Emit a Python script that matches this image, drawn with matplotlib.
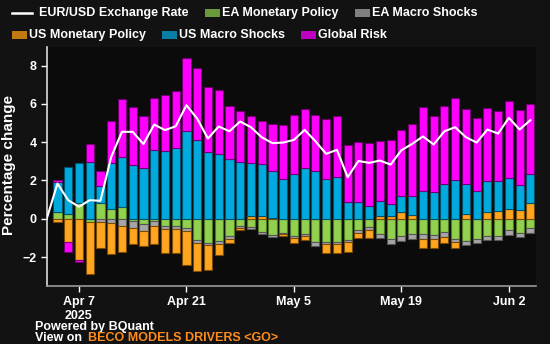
import numpy as np
import pandas as pd
import matplotlib
matplotlib.use("Agg")
import matplotlib.pyplot as plt
from matplotlib.lines import Line2D
from matplotlib.patches import Rectangle

plt.rcParams['font.family'] = ['Liberation Sans', 'DejaVu Sans']
plt.rcParams['font.weight'] = 'bold'

# Business days since the Apr 2 base date
dates = pd.bdate_range('2025-04-02', '2025-06-04')

# Driver contributions (percentage points)
ea_monetary = [0, 0.35, 0.26, 0.80, -0.17, 0.80, 0.50, 0.63, -0.10, -0.28,
               -0.10, -0.38, -0.38, -0.50, -1.13, -1.25, -1.17, -0.89, -0.38, -0.42,
               -0.71, -0.83, -0.73, -0.89, -0.78, -1.22, -1.20, -1.22, -1.10, -0.61,
               -0.43, -0.78, -1.06, -0.89, -0.78, -0.78, -0.87, -0.71, -1.03, -1.15,
               -1.03, -0.89, -0.89, -0.59, -0.73, -0.50]
ea_macro = [0, 0, 0, 0, 0, -0.17, -0.23, -0.38, -0.37, -0.37,
            -0.27, -0.17, -0.17, -0.16, -0.16, -0.14, -0.14, -0.16, -0.09, -0.12,
            -0.09, -0.14, -0.05, -0.12, -0.10, -0.19, -0.14, -0.12, -0.10, -0.14,
            -0.17, -0.23, -0.24, -0.26, -0.26, -0.26, -0.21, -0.23, -0.17, -0.24,
            -0.21, -0.21, -0.23, -0.24, -0.23, -0.24]
us_monetary = [0, -0.17, -1.22, -2.16, -2.71, -1.36, -1.63, -1.34, -0.83, -0.78,
               -0.97, -1.25, -1.23, -1.77, -1.44, -1.29, -0.59, -0.23, -0.10, 0.16,
               0.16, 0.05, -0.10, -0.26, -0.21, 0.0, -0.43, -0.45, -0.52, -0.24,
               -0.40, 0.12, 0.17, 0.35, 0.21, -0.47, -0.42, -0.31, -0.30, 0.24,
               0.0, 0.35, 0.40, 0.49, 0.47, 0.83]
us_macro = [0, 1.58, 2.45, 2.09, 2.99, 0.92, 2.42, 2.57, 2.83, 2.63,
            3.58, 3.53, 3.70, 4.56, 4.12, 3.50, 3.37, 3.10, 2.99, 2.77,
            2.68, 2.42, 2.09, 2.33, 2.64, 2.50, 2.09, 2.19, 0.90, 0.90,
            0.68, 0.83, 0.61, 0.85, 0.97, 1.46, 1.41, 1.83, 2.05, 1.58,
            1.46, 1.63, 1.55, 1.63, 1.29, 1.51]
global_risk = [0, 0.12, -0.49, -0.10, 0.94, 0.78, 2.17, 3.08, 3.01, 2.75,
               2.75, 2.94, 2.99, 3.86, 3.76, 3.39, 3.36, 2.80, 2.66, 2.43,
               2.28, 2.47, 2.83, 3.11, 3.11, 2.94, 3.11, 3.20, 2.97, 3.11,
               3.29, 3.13, 3.34, 3.46, 3.77, 4.37, 3.98, 4.05, 4.28, 3.90,
               3.81, 3.83, 3.67, 4.03, 3.93, 3.63]
eurusd = [0, 1.84, 0.97, 0.63, 0.97, 0.94, 3.23, 4.54, 4.54, 3.90,
          4.92, 4.63, 4.83, 5.93, 5.23, 4.19, 4.82, 4.57, 5.08, 4.78,
          4.26, 3.95, 3.98, 4.12, 4.64, 4.05, 3.39, 3.60, 2.17, 3.02,
          2.92, 3.04, 2.83, 3.58, 3.91, 4.30, 3.88, 4.57, 4.78, 4.26,
          3.98, 4.66, 4.45, 5.27, 4.66, 5.15]

series = [
    ('EA Monetary Policy', ea_monetary, '#92d050', '#4f7a22', '#6b9a3a'),
    ('EA Macro Shocks', ea_macro, '#a6a6a6', '#555555', '#808080'),
    ('US Monetary Policy', us_monetary, '#ffa51f', '#7a4a05', '#c07a10'),
    ('US Macro Shocks', us_macro, '#00aade', '#00506a', '#0a7fa6'),
    ('Global Risk', global_risk, '#ff00ff', '#6e006e', '#c000c0'),
]

fig = plt.figure(figsize=(5.5, 3.44), dpi=100, facecolor='#121212')
ax = fig.add_axes([0.0849, 0.1686, 0.8896, 0.6948], facecolor='#0b0b0b')

x = np.arange(len(dates))
pos = np.zeros(len(x))
neg = np.zeros(len(x))
for name, vals, col, edge, _ in series:
    v = np.array(vals, dtype=float)
    bottom = np.where(v >= 0, pos, neg)
    ax.bar(x[1:], v[1:], bottom=bottom[1:], width=0.76, color=col,
           edgecolor=edge, linewidth=0.8, zorder=2)
    pos = pos + np.clip(v, 0, None)
    neg = neg + np.clip(v, None, 0)

ax.plot(x, eurusd, color='white', lw=1.5, zorder=3)

ax.set_xlim(0, 45.52)
ax.set_ylim(-3.51, 8.97)
ax.set_yticks([-2, 0, 2, 4, 6, 8])
ax.tick_params(axis='y', colors='white', labelsize=9, length=4, width=1, pad=3)
for lbl in ax.get_yticklabels():
    lbl.set_fontweight('bold')

tick_days = ['2025-04-07', '2025-04-21', '2025-05-05', '2025-05-19', '2025-06-02']
tick_pos = [dates.get_loc(pd.Timestamp(d)) for d in tick_days]
ax.set_xticks(tick_pos)
ax.set_xticklabels(['Apr 7\n2025', 'Apr 21', 'May 5', 'May 19', 'Jun 2'],
                   fontweight='bold')
ax.tick_params(axis='x', colors='white', labelsize=9, length=4, width=1, pad=3)
for lbl in ax.get_xticklabels():
    lbl.set_linespacing(1.25)

for side in ['top', 'right']:
    ax.spines[side].set_visible(False)
ax.spines['left'].set_color('#dddddd')
ax.spines['left'].set_linewidth(1.2)
ax.spines['bottom'].set_color('#999999')
ax.spines['bottom'].set_linewidth(1.2)

fig.text(9 / 550, 1 - 165 / 344, 'Percentage change', rotation=90, color='white',
         fontsize=11, fontweight='bold', ha='center', va='center')

# Legend rows drawn in figure pixels
W, H = 550, 344
def fx(px):
    return px / W
def fy(py):
    return 1 - py / H

fig.add_artist(Line2D([fx(12), fx(32)], [fy(13), fy(13)], color='white', lw=1.8))
fig.text(fx(39), fy(13), 'EUR/USD Exchange Rate', color='white', fontsize=9,
         fontweight='bold', va='center')

legend_spots = [(205, 13), (355, 13), (12, 35), (162, 35), (301, 35)]
for (name, _, _, _, swatch), (lx, ly) in zip(series, legend_spots):
    fig.add_artist(Rectangle((fx(lx), fy(ly + 3.5)), 15 / W, 7 / H,
                             facecolor=swatch, edgecolor='none',
                             transform=fig.transFigure))
    fig.text(fx(lx + 17), fy(ly), name, color='white', fontsize=9,
             fontweight='bold', va='center')

fig.text(fx(35), fy(327), 'Powered by BQuant', color='white', fontsize=9,
         fontweight='bold', va='center')
fig.text(fx(35), fy(338), 'View on', color='white', fontsize=9,
         fontweight='bold', va='center')
fig.text(fx(88), fy(338), 'BECO MODELS DRIVERS <GO>', color='#ff8c1a', fontsize=9,
         fontweight='bold', va='center')

fig.savefig('out.png', dpi=100, facecolor=fig.get_facecolor())
